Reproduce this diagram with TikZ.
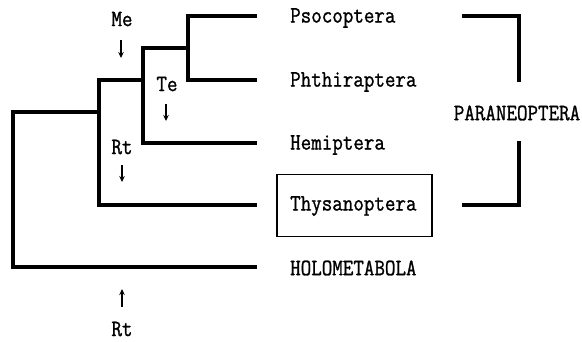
\documentclass[tikz,border=0pt]{standalone}
\usepackage{fontspec}
\setmonofont[FakeStretch=0.87,FakeBold=1.1]{Latin Modern Mono}
\usetikzlibrary{arrows.meta}
\begin{document}
\begin{tikzpicture}[x=1pt,y=-1pt,
  branch/.style={line width=3.2pt,line cap=rect,line join=miter},
  lab/.style={font=\ttfamily\fontsize{23.5}{23.5}\selectfont,inner sep=0pt,anchor=west},
  ann/.style={font=\ttfamily\fontsize{23.5}{23.5}\selectfont,inner sep=0pt},
  event/.style={line width=1.4pt,-{Stealth[length=6pt,width=5.5pt]}},
  box/.style={draw,line width=1.3pt,minimum width=155pt,minimum height=62pt,inner sep=0pt}]
\useasboundingbox (0,0) rectangle (582,341);
% leaves
\coordinate (lP) at (255,16);
\coordinate (lPh) at (255,80);
\coordinate (lH) at (255,143);
\coordinate (lT) at (255,205);
\coordinate (lHo) at (255,267);
% internal nodes
\coordinate (nA1) at (188,16);
\coordinate (nA2) at (188,80);
\coordinate (nB1) at (143,48);
\coordinate (nB2) at (143,143);
\coordinate (nC1) at (99,80);
\coordinate (nC2) at (99,205);
\coordinate (nR1) at (13,112);
\coordinate (nR2) at (13,267);
\draw[branch] (lP) -- (nA1) -- (nA2) -- (lPh);
\draw[branch] (nA1 |- nB1) -- (nB1) -- (nB2) -- (lH);
\draw[branch] (nB1 |- nC1) -- (nC1) -- (nC2) -- (lT);
\draw[branch] (nC1 |- nR1) -- (nR1) -- (nR2) -- (lHo);
% labels
\node[lab] (psoc) at (290,18) {Psocoptera};
\node[lab] (phth) at (290,82) {Phthiraptera};
\node[lab] (hemi) at (290,145) {Hemiptera};
\node[lab] (thys) at (290,206) {Thysanoptera};
\node[lab] (holo) at (290,268) {HOLOMETABOLA};
\node[box] (tbox) at (354.5,205.5) {};
\node[ann] (para) at (517,113) {PARANEOPTERA};
% bracket
\coordinate (bt1) at (464,16);
\coordinate (bt2) at (519,16);
\coordinate (bt3) at (519,80);
\coordinate (bb1) at (519,143);
\coordinate (bb2) at (519,205);
\coordinate (bb3) at (464,205);
\draw[branch] (bt1) -- (bt2) -- (bt3);
\draw[branch] (bb1) -- (bb2) -- (bb3);
% annotations
\node[ann] (me) at (122,19) {Me};
\coordinate (me1) at (121,40);
\coordinate (me2) at (121,58);
\draw[event] (me1) -- (me2);
\node[ann] (te) at (167,84) {Te};
\coordinate (te1) at (166,104);
\coordinate (te2) at (166,121);
\draw[event] (te1) -- (te2);
\node[ann] (rt1) at (122,147) {Rt};
\coordinate (r11) at (122,165);
\coordinate (r12) at (122,182);
\draw[event] (r11) -- (r12);
\coordinate (r21) at (122,307);
\coordinate (r22) at (122,289);
\draw[event] (r21) -- (r22);
\node[ann] (rt2) at (122,329) {Rt};
\end{tikzpicture}
\end{document}
